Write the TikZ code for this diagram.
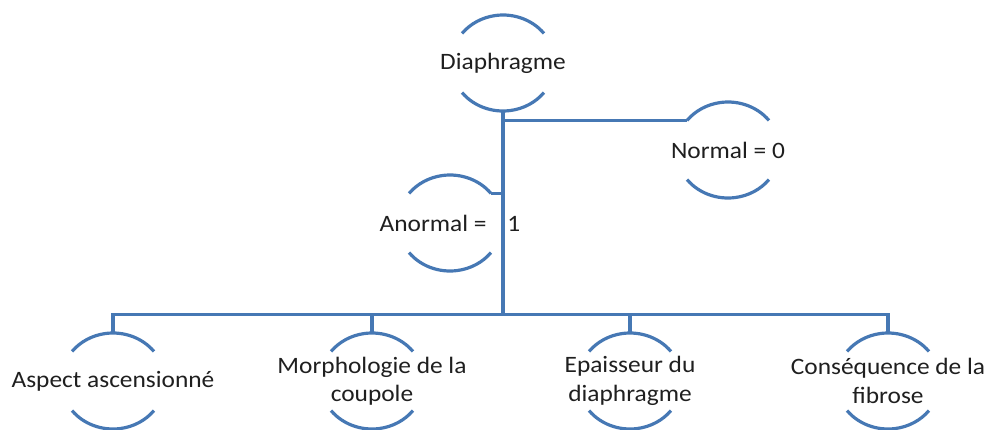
\documentclass[tikz,border=0pt]{standalone}
\usepackage{fontspec}
\setmainfont{Carlito}[FakeStretch=1.08]
\usetikzlibrary{shapes.geometric}
\definecolor{arcblue}{RGB}{70,120,180}
\tikzset{
  oval/.style={ellipse, minimum width=104pt, minimum height=96pt, inner sep=0pt, draw=none,
    font=\fontsize{23.5}{28.5}\selectfont, align=center, text=black!88},
  ln/.style={draw=arcblue, line width=3.2pt},
}
\newcommand\ovalarcs[1]{%
  \draw[ln] ([shift={(38:52pt and 48pt)}]#1.center) arc[start angle=38,end angle=142,x radius=52pt,y radius=48pt];
  \draw[ln] ([shift={(218:52pt and 48pt)}]#1.center) arc[start angle=218,end angle=322,x radius=52pt,y radius=48pt];
  \coordinate (#1-tl) at ([shift={(142:52pt and 48pt)}]#1.center);
  \coordinate (#1-tr) at ([shift={(38:52pt and 48pt)}]#1.center);
}
\begin{document}
\begin{tikzpicture}[x=1pt,y=1pt]
\useasboundingbox (0,0) rectangle (988,-429);
\node[oval] (dia) at (503,-63) {Diaphragme};
\node[oval] (nor) at (728,-150) {Normal = 0};
\node[oval] (ano) at (450,-223) {Anormal = \hspace{0.65em}1};
\node[oval] (asc) at (113,-381) {Aspect ascensionné};
\node[oval] (mor) at (372,-381) {Morphologie de la\\coupole};
\node[oval] (epa) at (630,-381) {Epaisseur du\\diaphragme};
\node[oval] (con) at (888,-381) {Conséquence de la\\fibrose};
\foreach \n in {dia,nor,ano,asc,mor,epa,con}{\ovalarcs{\n}}
\coordinate (bus) at ([yshift=18pt]asc.north);
\draw[ln] (dia.south) -- (dia.south |- bus);
\draw[ln] (asc.north) -- (bus) -| (con.north);
\draw[ln] (mor.north) -- (mor.north |- bus);
\draw[ln] (epa.north) -- (epa.north |- bus);
\draw[ln] (nor-tl) -- (nor-tl -| dia.south);
\draw[ln] (ano-tr) -- (ano-tr -| dia.south);
\end{tikzpicture}
\end{document}
